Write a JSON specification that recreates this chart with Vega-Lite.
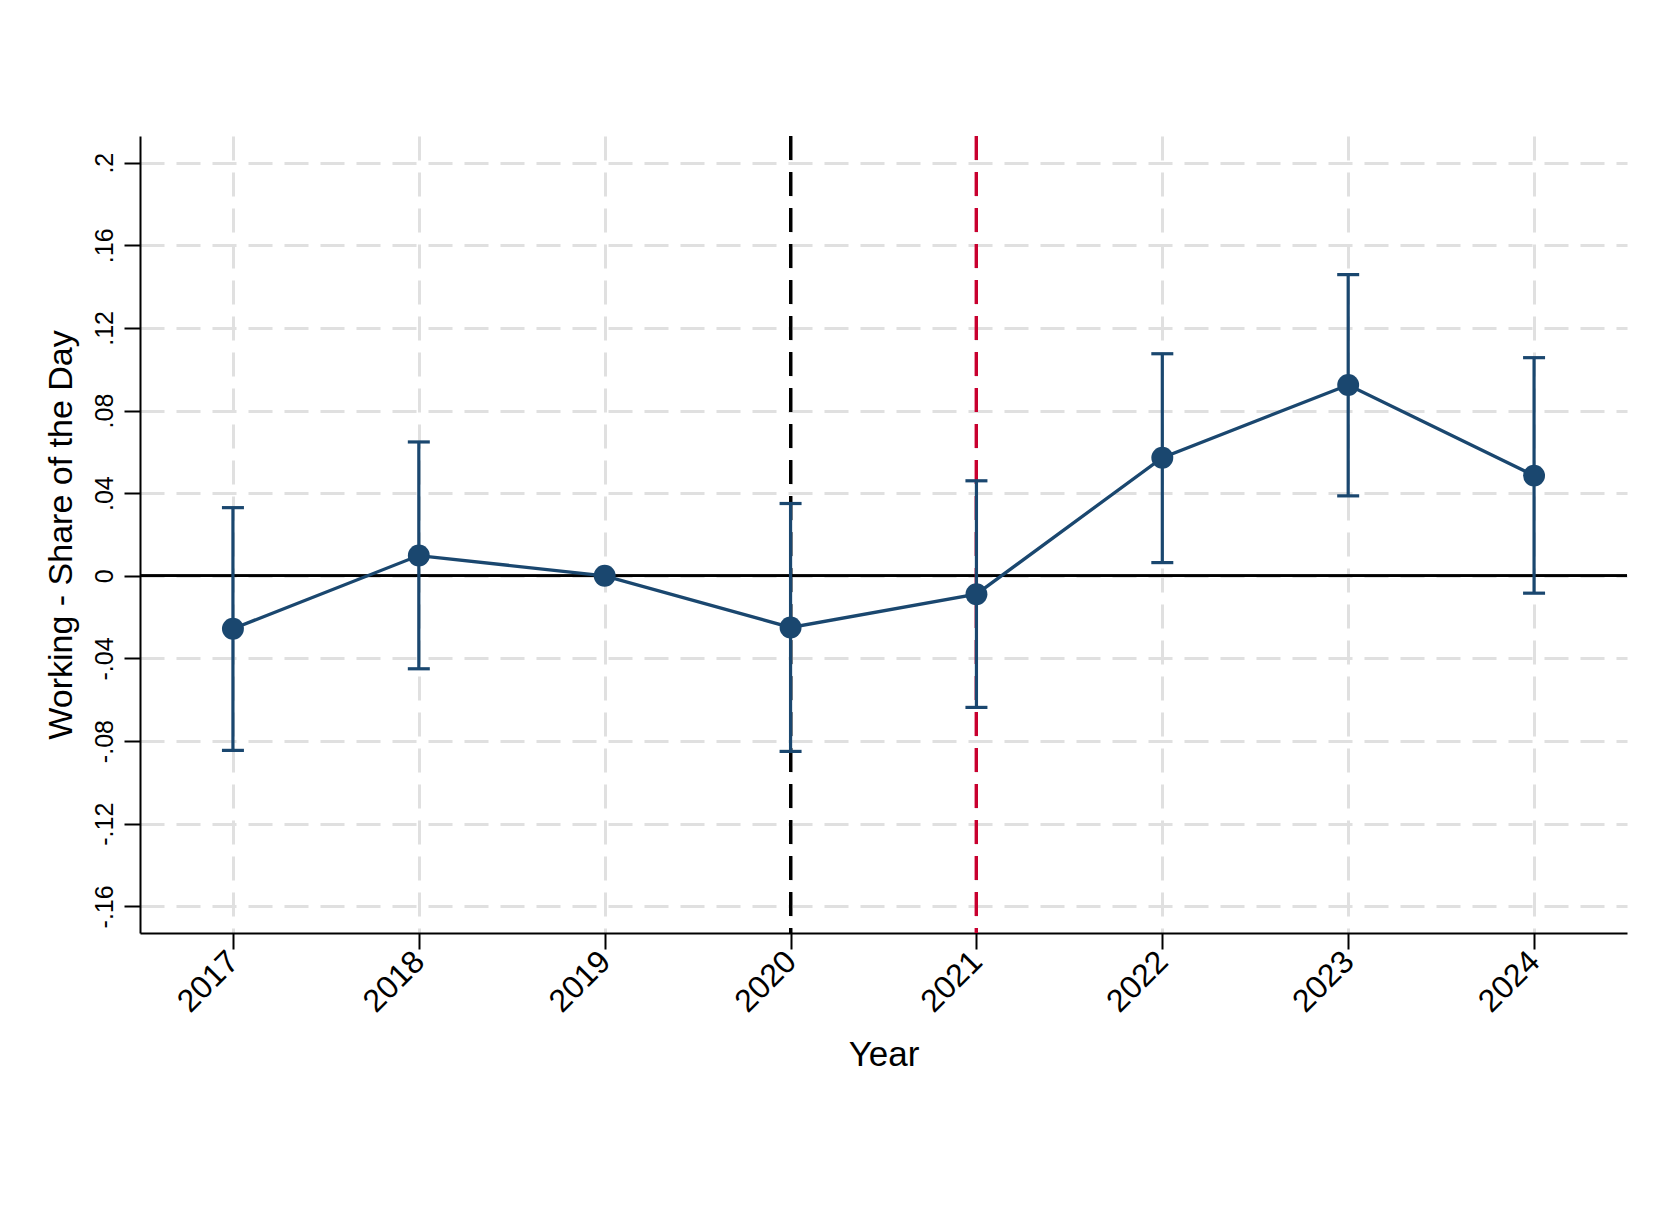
{
  "$schema": "https://vega.github.io/schema/vega-lite/v6.json",
  "width": 1487,
  "height": 797,
  "autosize": {"type": "none"},
  "padding": {"left": 140, "top": 136, "right": 45, "bottom": 283},
  "background": "white",
  "config": {
    "view": {"stroke": null},
    "font": "Liberation Sans",
    "axis": {
      "domainColor": "black",
      "domainWidth": 2,
      "tickColor": "black",
      "tickWidth": 2,
      "tickSize": 16,
      "labelColor": "black",
      "titleColor": "black",
      "titleFontWeight": "normal",
      "grid": true,
      "gridColor": "#e0e0e0",
      "gridWidth": 3,
      "gridDash": [24, 12]
    }
  },
  "data": {
    "values": [
      {"year": 2017, "b": -0.0256, "lo": -0.0845, "hi": 0.033},
      {"year": 2018, "b": 0.0098, "lo": -0.045, "hi": 0.0648},
      {"year": 2019, "b": 0, "lo": 0, "hi": 0},
      {"year": 2020, "b": -0.025, "lo": -0.085, "hi": 0.035},
      {"year": 2021, "b": -0.0089, "lo": -0.0637, "hi": 0.046},
      {"year": 2022, "b": 0.0572, "lo": 0.0064, "hi": 0.1075},
      {"year": 2023, "b": 0.0924, "lo": 0.0387, "hi": 0.1458},
      {"year": 2024, "b": 0.0485, "lo": -0.0084, "hi": 0.1056}
    ]
  },
  "encoding": {
    "x": {
      "field": "year",
      "type": "quantitative",
      "scale": {"domain": [2016.5, 2024.5], "nice": false, "zero": false},
      "axis": {
        "title": "Year",
        "titleFontSize": 35,
        "titlePadding": 20,
        "values": [2017, 2018, 2019, 2020, 2021, 2022, 2023, 2024],
        "format": "d",
        "labelAngle": -45,
        "labelAlign": "right",
        "labelBaseline": "middle",
        "labelFontSize": 32,
        "labelPadding": 7,
        "labelOverlap": false
      }
    }
  },
  "layer": [
    {
      "mark": {"type": "rule", "color": "black", "strokeWidth": 2},
      "encoding": {
        "x": {"value": 0},
        "x2": {"value": 1487},
        "y": {
          "datum": 0,
          "type": "quantitative",
          "scale": {"domain": [-0.1729, 0.2129], "nice": false, "zero": false},
          "axis": {
            "title": "Working - Share of the Day",
            "titleFontSize": 34,
            "titlePadding": 14,
            "values": [-0.16, -0.12, -0.08, -0.04, 0, 0.04, 0.08, 0.12, 0.16, 0.2],
            "labelExpr": "(datum.value < 0 ? '-' : '') + replace(format(abs(datum.value), '.2~f'), '0.', '.')",
            "labelAngle": -90,
            "labelAlign": "center",
            "labelBaseline": "alphabetic",
            "labelFontSize": 25,
            "labelPadding": 12,
            "labelOverlap": false
          }
        }
      }
    },
    {
      "mark": {"type": "rule", "color": "black", "strokeWidth": 3, "strokeDash": [24, 12]},
      "encoding": {"x": {"datum": 2020, "type": "quantitative"}}
    },
    {
      "mark": {"type": "rule", "color": "#c8002f", "strokeWidth": 3, "strokeDash": [24, 12]},
      "encoding": {"x": {"datum": 2021, "type": "quantitative"}}
    },
    {
      "transform": [{"filter": "datum.hi != datum.lo"}],
      "mark": {"type": "rule", "color": "#1a476f", "strokeWidth": 3.2},
      "encoding": {
        "y": {"field": "lo", "type": "quantitative", "scale": {"domain": [-0.1729, 0.2129], "nice": false, "zero": false}},
        "y2": {"field": "hi"}
      }
    },
    {
      "transform": [{"filter": "datum.hi != datum.lo"}],
      "mark": {"type": "tick", "orient": "horizontal", "color": "#1a476f", "size": 22, "thickness": 3.2, "opacity": 1},
      "encoding": {
        "y": {"field": "lo", "type": "quantitative", "scale": {"domain": [-0.1729, 0.2129], "nice": false, "zero": false}}
      }
    },
    {
      "transform": [{"filter": "datum.hi != datum.lo"}],
      "mark": {"type": "tick", "orient": "horizontal", "color": "#1a476f", "size": 22, "thickness": 3.2, "opacity": 1},
      "encoding": {
        "y": {"field": "hi", "type": "quantitative", "scale": {"domain": [-0.1729, 0.2129], "nice": false, "zero": false}}
      }
    },
    {
      "mark": {"type": "line", "color": "#1a476f", "strokeWidth": 3.3},
      "encoding": {
        "y": {"field": "b", "type": "quantitative", "scale": {"domain": [-0.1729, 0.2129], "nice": false, "zero": false}}
      }
    },
    {
      "mark": {"type": "circle", "color": "#1a476f", "size": 480, "opacity": 1},
      "encoding": {
        "y": {"field": "b", "type": "quantitative", "scale": {"domain": [-0.1729, 0.2129], "nice": false, "zero": false}}
      }
    }
  ]
}
